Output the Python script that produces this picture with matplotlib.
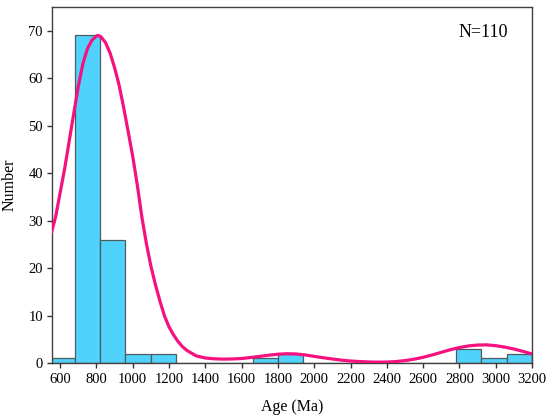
import matplotlib
matplotlib.use("Agg")
import matplotlib.pyplot as plt
import numpy as np

plt.rcParams['font.family'] = ['Liberation Serif', 'DejaVu Serif']

# Histogram data (bin edges in Ma, counts)
bin_edges = [540, 680, 820, 960, 1100, 1240, 1380, 1520, 1660, 1800, 1940,
             2080, 2220, 2360, 2500, 2640, 2780, 2920, 3060, 3200]
counts = [1, 69, 26, 2, 2, 0, 0, 0, 1, 2, 0, 0, 0, 0, 0, 0, 3, 1, 2]

# Probability-density curve (scaled)
curve_age = [550, 575, 600, 625, 650, 675, 700, 725, 750, 775, 800, 810,
             825, 850, 875, 900, 925, 950, 975, 1000, 1025, 1050, 1075,
             1100, 1125, 1150, 1175, 1200, 1225, 1250, 1275, 1300, 1350,
             1400, 1450, 1500, 1550, 1600, 1650, 1700, 1750, 1800, 1850,
             1900, 1950, 2000, 2050, 2100, 2150, 2200, 2250, 2300, 2350,
             2400, 2450, 2500, 2550, 2600, 2650, 2700, 2750, 2800, 2850,
             2900, 2950, 3000, 3050, 3100, 3150, 3200]
curve_num = [27.2, 30.8, 35.9, 41.0, 46.8, 52.6, 58.3, 63.0, 66.2, 68.0,
             68.9, 69.0, 68.7, 67.5, 65.3, 62.2, 58.5, 53.8, 48.7, 43.5,
             37.5, 30.8, 25.2, 20.4, 16.5, 13.0, 9.9, 7.6, 5.9, 4.5, 3.4,
             2.6, 1.5, 1.05, 0.88, 0.82, 0.85, 0.95, 1.15, 1.4, 1.65, 1.85,
             1.95, 1.9, 1.7, 1.4, 1.1, 0.85, 0.6, 0.42, 0.3, 0.22, 0.18,
             0.2, 0.3, 0.5, 0.8, 1.2, 1.7, 2.25, 2.8, 3.25, 3.6, 3.78,
             3.82, 3.65, 3.35, 2.95, 2.45, 1.9]

x_ticks = list(range(600, 3201, 200))
y_ticks = [0, 10, 20, 30, 40, 50, 60, 70]

fig = plt.figure(figsize=(5.5, 4.18), dpi=100)
ax = fig.add_axes([52/550, 1 - 363/418, (532-52)/550, (363-7)/418])

left = np.array(bin_edges[:-1])
widths = np.diff(bin_edges)
ax.bar(left, counts, width=widths, align='edge', color='#4FD3FC',
       edgecolor='#505a5f', linewidth=0.9, zorder=2)

ax.plot(curve_age, curve_num, color='#F5117F', linewidth=2.3, zorder=3,
        solid_capstyle='butt', solid_joinstyle='round')

ax.set_xlim(555, 3200)
ax.set_ylim(0, 75)
ax.set_xticks(x_ticks)
ax.set_yticks(y_ticks)
ax.tick_params(axis='both', which='major', labelsize=10.5, direction='out',
               length=3.5, width=1, color='#333333')
ax.tick_params(axis='x', pad=4)
ax.tick_params(axis='y', pad=3)
ax.tick_params(top=False, right=False)
for s in ax.spines.values():
    s.set_color('#404040')
    s.set_linewidth(1.0)

ax.set_xlabel('Age (Ma)', fontsize=11.5, labelpad=9)
ax.set_ylabel('Number', fontsize=11.5, labelpad=8)
ax.text(0.95, 0.927, 'N=110', transform=ax.transAxes, fontsize=13,
        ha='right', va='center')

fig.savefig('out.png', dpi=100)
